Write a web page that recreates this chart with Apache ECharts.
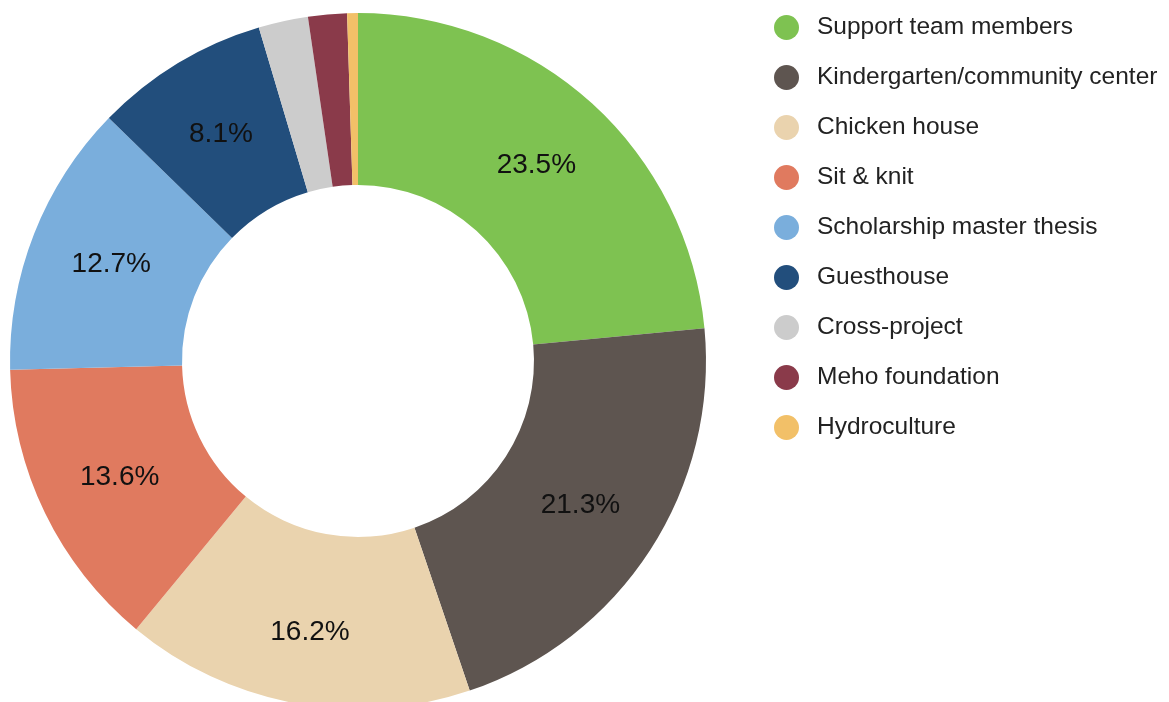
<!DOCTYPE html>
<html>
<head>
<meta charset="utf-8">
<script src="https://cdn.jsdelivr.net/npm/echarts@6/dist/echarts.min.js"></script>
<style>
html,body{margin:0;padding:0;background:#fff;}
#chart{width:1169px;height:702px;}
</style>
</head>
<body>
<div id="chart"></div>
<script>
const categories = ["Support team members","Kindergarten/community center","Chicken house","Sit & knit","Scholarship master thesis","Guesthouse","Cross-project","Meho foundation","Hydroculture"];
const values = [23.5, 21.3, 16.2, 13.6, 12.7, 8.1, 2.3, 1.8, 0.5];
const colors = ["#7EC251","#5E5550","#EAD3AE","#E07A5F","#7AAEDC","#224E7C","#CCCCCC","#8A3A4A","#F2C068"];
const labelMin = 5;

const chart = echarts.init(document.getElementById('chart'), null, {renderer:'canvas'});
chart.setOption({
  animation: false,
  color: colors,
  legend: {
    orient: 'vertical',
    left: 774,
    top: 15,
    padding: 0,
    itemWidth: 25,
    itemHeight: 25,
    itemGap: 25,
    icon: 'circle',
    textStyle: {
      fontFamily: 'Liberation Sans, Arial, sans-serif',
      fontSize: 24.5,
      color: '#222',
      padding: [0,0,0,13]
    },
    data: categories
  },
  series: [{
    type: 'pie',
    center: [358, 361],
    radius: [176, 348],
    startAngle: 90,
    clockwise: true,
    avoidLabelOverlap: false,
    label: {
      show: true,
      position: 'inside',
      fontFamily: 'Liberation Sans, Arial, sans-serif',
      fontSize: 28,
      color: '#111',
      formatter: p => p.value >= labelMin ? p.value.toFixed(1) + '%' : ''
    },
    labelLayout: p => p.dataIndex === 2 ? {dy: 11} : {},
    labelLine: {show: false},
    emphasis: {disabled: true},
    itemStyle: {borderWidth: 0},
    data: categories.map((c, i) => ({name: c, value: values[i]}))
  }]
});
</script>
</body>
</html>
